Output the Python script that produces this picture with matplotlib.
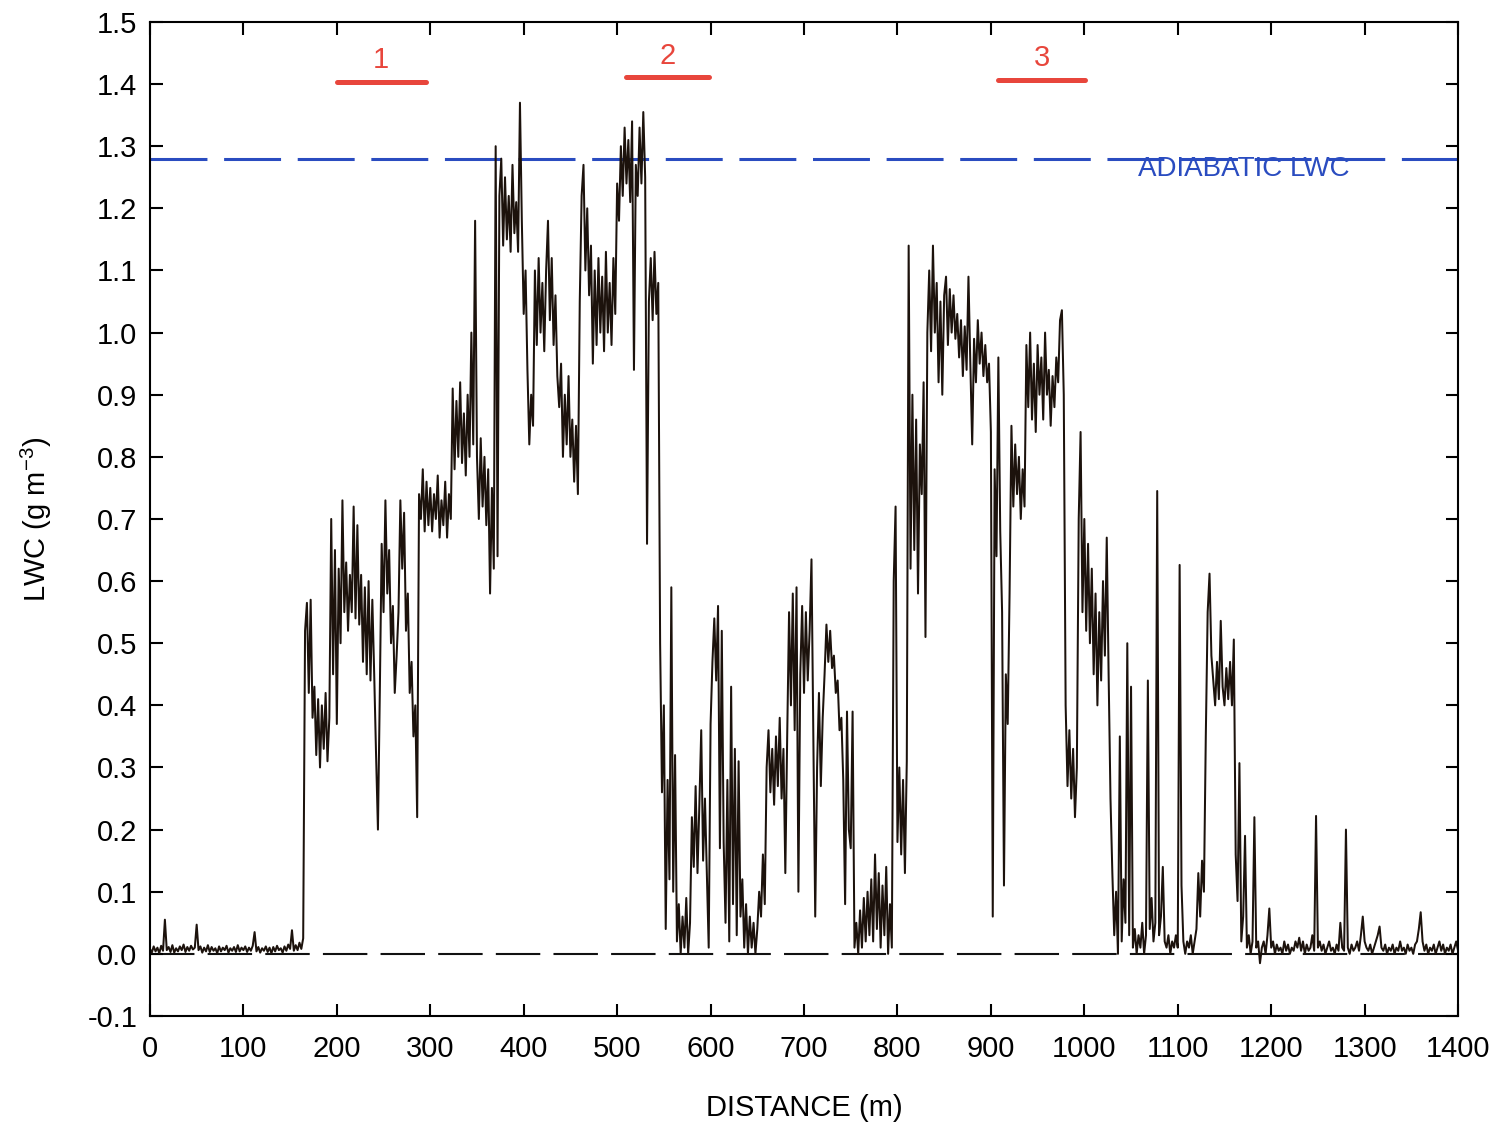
import numpy as np
import matplotlib
matplotlib.use("Agg")
import matplotlib.pyplot as plt

plt.rcParams["font.family"] = ["Liberation Sans", "DejaVu Sans"]
plt.rcParams["mathtext.default"] = "regular"
plt.rcParams["lines.scale_dashes"] = False

# Liquid water content along the flight track, sampled every 2 m (g m-3)
step_m = 2.0
lwc_0000 = [0.008, 0.002, 0.012, 0.004, 0.010, 0.001, 0.013, 0.005, 0.055, 0.006, 0.011, 0.003, 0.014,
            0.002, 0.009, 0.004, 0.012, 0.006, 0.015, 0.003, 0.011, 0.005, 0.013, 0.007, 0.010]
lwc_0050 = [0.047, 0.006, 0.012, 0.002, 0.010, 0.004, 0.014, 0.003, 0.011, 0.005, 0.009, 0.001, 0.012,
            0.004, 0.010, 0.006, 0.013, 0.002, 0.009, 0.005, 0.011, 0.003, 0.014, 0.004, 0.010]
lwc_0100 = [0.006, 0.012, 0.003, 0.010, 0.005, 0.013, 0.035, 0.004, 0.011, 0.002, 0.009, 0.005, 0.012,
            0.003, 0.010, 0.001, 0.011, 0.004, 0.013, 0.006, 0.009, 0.002, 0.012, 0.005, 0.015]
lwc_0150 = [0.008, 0.038, 0.005, 0.014, 0.006, 0.018, 0.008, 0.025, 0.52, 0.565, 0.42, 0.57, 0.38,
            0.43, 0.32, 0.41, 0.30, 0.40, 0.33, 0.42, 0.31, 0.38, 0.70, 0.45, 0.65]
lwc_0200 = [0.37, 0.62, 0.50, 0.73, 0.55, 0.63, 0.52, 0.61, 0.55, 0.72, 0.54, 0.69, 0.53,
            0.61, 0.47, 0.59, 0.45, 0.60, 0.44, 0.57, 0.45, 0.32, 0.20, 0.42, 0.66]
lwc_0250 = [0.55, 0.73, 0.58, 0.65, 0.50, 0.56, 0.42, 0.48, 0.55, 0.73, 0.62, 0.71, 0.52,
            0.58, 0.42, 0.47, 0.35, 0.40, 0.22, 0.74, 0.70, 0.78, 0.68, 0.76, 0.69]
lwc_0300 = [0.75, 0.68, 0.74, 0.70, 0.77, 0.67, 0.73, 0.69, 0.76, 0.67, 0.74, 0.70, 0.91,
            0.78, 0.89, 0.80, 0.92, 0.79, 0.87, 0.77, 0.90, 0.80, 1.00, 0.82, 1.18]
lwc_0350 = [0.80, 0.70, 0.83, 0.72, 0.80, 0.69, 0.78, 0.58, 0.75, 0.62, 1.30, 0.64, 1.22,
            1.28, 1.14, 1.25, 1.15, 1.22, 1.13, 1.27, 1.16, 1.21, 1.13, 1.37, 1.18]
lwc_0400 = [1.03, 1.10, 0.94, 0.82, 0.90, 0.85, 1.10, 0.98, 1.12, 1.00, 1.08, 0.97, 1.10,
            1.18, 1.02, 1.12, 0.98, 1.06, 0.93, 0.88, 0.95, 0.80, 0.90, 0.82, 0.93]
lwc_0450 = [0.80, 0.86, 0.76, 0.85, 0.74, 1.05, 1.22, 1.27, 1.10, 1.20, 1.06, 1.14, 0.95,
            1.10, 0.98, 1.12, 1.00, 1.09, 0.97, 1.13, 1.00, 1.08, 0.98, 1.12, 1.03]
lwc_0500 = [1.24, 1.18, 1.30, 1.22, 1.33, 1.24, 1.31, 1.21, 1.34, 0.94, 1.27, 1.22, 1.33,
            1.24, 1.355, 1.25, 0.66, 1.05, 1.12, 1.02, 1.13, 1.03, 1.08, 0.50, 0.26]
lwc_0550 = [0.40, 0.04, 0.28, 0.12, 0.59, 0.10, 0.32, 0.02, 0.08, 0.00, 0.06, 0.01, 0.09,
            0.00, 0.05, 0.22, 0.14, 0.27, 0.13, 0.24, 0.36, 0.15, 0.25, 0.13, 0.01]
lwc_0600 = [0.37, 0.47, 0.54, 0.44, 0.56, 0.17, 0.52, 0.18, 0.05, 0.28, 0.02, 0.43, 0.08,
            0.33, 0.03, 0.31, 0.06, 0.12, 0.01, 0.08, 0.00, 0.06, 0.01, 0.05, 0.00]
lwc_0650 = [0.04, 0.10, 0.06, 0.16, 0.08, 0.30, 0.36, 0.26, 0.33, 0.24, 0.35, 0.27, 0.38,
            0.25, 0.33, 0.13, 0.35, 0.55, 0.40, 0.58, 0.36, 0.59, 0.10, 0.45, 0.56]
lwc_0700 = [0.42, 0.55, 0.44, 0.52, 0.635, 0.35, 0.06, 0.30, 0.42, 0.27, 0.38, 0.45, 0.53,
            0.47, 0.52, 0.46, 0.48, 0.42, 0.44, 0.36, 0.38, 0.28, 0.08, 0.39, 0.20]
lwc_0750 = [0.17, 0.39, 0.01, 0.05, 0.00, 0.07, 0.01, 0.09, 0.02, 0.10, 0.03, 0.12, 0.02,
            0.16, 0.04, 0.13, 0.01, 0.11, 0.03, 0.14, 0.00, 0.08, 0.01, 0.60, 0.72]
lwc_0800 = [0.18, 0.30, 0.16, 0.28, 0.13, 0.31, 1.14, 0.62, 0.90, 0.65, 0.86, 0.58, 0.82,
            0.74, 0.92, 0.51, 1.00, 1.10, 0.97, 1.14, 1.00, 1.08, 0.92, 1.05, 0.90]
lwc_0850 = [1.06, 1.09, 0.98, 1.07, 1.00, 1.06, 0.99, 1.03, 0.96, 1.02, 0.93, 1.01, 0.94,
            1.09, 0.95, 0.82, 0.99, 0.92, 1.02, 0.95, 1.00, 0.93, 0.98, 0.92, 0.95]
lwc_0900 = [0.84, 0.06, 0.78, 0.64, 0.96, 0.68, 0.55, 0.11, 0.45, 0.37, 0.58, 0.85, 0.72,
            0.82, 0.74, 0.80, 0.70, 0.78, 0.72, 0.98, 0.88, 1.00, 0.86, 0.95, 0.84]
lwc_0950 = [0.98, 0.90, 0.96, 0.86, 1.00, 0.90, 0.94, 0.85, 0.93, 0.88, 0.96, 0.92, 1.02,
            1.036, 0.90, 0.40, 0.27, 0.36, 0.25, 0.33, 0.22, 0.30, 0.70, 0.84, 0.55]
lwc_1000 = [0.70, 0.52, 0.66, 0.50, 0.62, 0.45, 0.58, 0.40, 0.55, 0.44, 0.60, 0.48, 0.67,
            0.45, 0.25, 0.13, 0.03, 0.10, 0.00, 0.35, 0.02, 0.12, 0.05, 0.50, 0.03]
lwc_1050 = [0.43, 0.01, 0.04, 0.00, 0.03, 0.01, 0.05, 0.00, 0.03, 0.44, 0.04, 0.09, 0.02,
            0.05, 0.745, 0.03, 0.06, 0.14, 0.02, 0.01, 0.03, 0.00, 0.02, 0.01, 0.03]
lwc_1100 = [0.01, 0.626, 0.11, 0.02, 0.00, 0.02, 0.01, 0.03, 0.00, 0.02, 0.04, 0.13, 0.06,
            0.15, 0.10, 0.35, 0.55, 0.612, 0.48, 0.44, 0.40, 0.47, 0.41, 0.536, 0.43]
lwc_1150 = [0.40, 0.46, 0.41, 0.47, 0.40, 0.506, 0.16, 0.085, 0.307, 0.02, 0.06, 0.19, 0.01,
            0.03, 0.00, 0.02, 0.22, 0.01, 0.02, -0.015, 0.01, 0.02, 0.00, 0.03, 0.073]
lwc_1200 = [0.01, 0.02, 0.00, 0.015, 0.005, 0.01, 0.00, 0.02, 0.005, 0.015, 0.00, 0.01, 0.005,
            0.02, 0.01, 0.026, 0.005, 0.02, 0.00, 0.015, 0.005, 0.01, 0.03, 0.005, 0.222]
lwc_1250 = [0.01, 0.02, 0.005, 0.015, 0.00, 0.01, 0.02, 0.005, 0.01, 0.00, 0.015, 0.005, 0.05,
            0.01, 0.005, 0.20, 0.01, 0.00, 0.015, 0.005, 0.01, 0.02, 0.005, 0.03, 0.06]
lwc_1300 = [0.02, 0.01, 0.005, 0.015, 0.00, 0.01, 0.02, 0.03, 0.044, 0.01, 0.005, 0.015, 0.00,
            0.01, 0.005, 0.015, 0.00, 0.01, 0.005, 0.02, 0.005, 0.01, 0.00, 0.015, 0.005]
lwc_1350 = [0.01, 0.00, 0.015, 0.02, 0.04, 0.067, 0.02, 0.005, 0.015, 0.00, 0.01, 0.005, 0.015,
            0.00, 0.01, 0.02, 0.005, 0.015, 0.00, 0.01, 0.005, 0.015, 0.00, 0.01, 0.02, 0.005]

lwc = np.concatenate([lwc_0000, lwc_0050, lwc_0100, lwc_0150, lwc_0200, lwc_0250, lwc_0300,
                      lwc_0350, lwc_0400, lwc_0450, lwc_0500, lwc_0550, lwc_0600, lwc_0650,
                      lwc_0700, lwc_0750, lwc_0800, lwc_0850, lwc_0900, lwc_0950, lwc_1000,
                      lwc_1050, lwc_1100, lwc_1150, lwc_1200, lwc_1250, lwc_1300, lwc_1350])
distance = np.arange(len(lwc)) * step_m

adiabatic_lwc = 1.28
# Flight segments marked above the trace: (label, start m, end m, level)
segment_labels = ["1", "2", "3"]
segment_start = [200, 509, 908]
segment_end = [295, 598, 1001]
segment_level = [1.404, 1.411, 1.407]

x_ticks = list(range(0, 1401, 100))
y_ticks = [round(-0.1 + 0.1 * i, 1) for i in range(17)]

fig = plt.figure(figsize=(14.95, 11.26), dpi=100)
ax = fig.add_axes([0.1003, 0.0977, 0.8750, 0.8828])

# zero reference and adiabatic reference lines
ax.plot([0, 1400], [0.0, 0.0], color="#111111", lw=1.5, dashes=(32, 9.5), zorder=1)
ax.plot([0, 1400], [adiabatic_lwc, adiabatic_lwc], color="#2a4cc0", lw=2.2,
        dashes=(41, 12), zorder=1)
ax.text(1057, 1.264, "ADIABATIC LWC", color="#2a4cc0", fontsize=20, va="center", ha="left",
        zorder=3)

# LWC trace
ax.plot(distance, lwc, color="#1c120c", lw=1.45, zorder=2)

# segment markers
for lab, s, e, lev in zip(segment_labels, segment_start, segment_end, segment_level):
    ax.plot([s, e], [lev, lev], color="#e8463c", lw=3.6, solid_capstyle="round", zorder=3)
    ax.text((s + e) / 2, lev + 0.012, lab, color="#e8463c", fontsize=21, ha="center",
            va="bottom", zorder=3)

ax.set_xlim(0, 1400)
ax.set_ylim(-0.1, 1.5)
ax.set_xticks(x_ticks)
ax.set_yticks(y_ticks)
ax.set_yticklabels([f"{v:.1f}" for v in y_ticks])
ax.tick_params(direction="in", length=9, width=1.5, top=True, right=True, labelsize=21)
ax.tick_params(axis="x", pad=14)
ax.tick_params(axis="y", pad=9)
for sp in ax.spines.values():
    sp.set_linewidth(1.5)

ax.set_xlabel("DISTANCE (m)", fontsize=21, labelpad=22)
ax.set_ylabel("LWC (g m$^{-3}$)", fontsize=21, labelpad=24)

fig.savefig("out.png", dpi=100)
